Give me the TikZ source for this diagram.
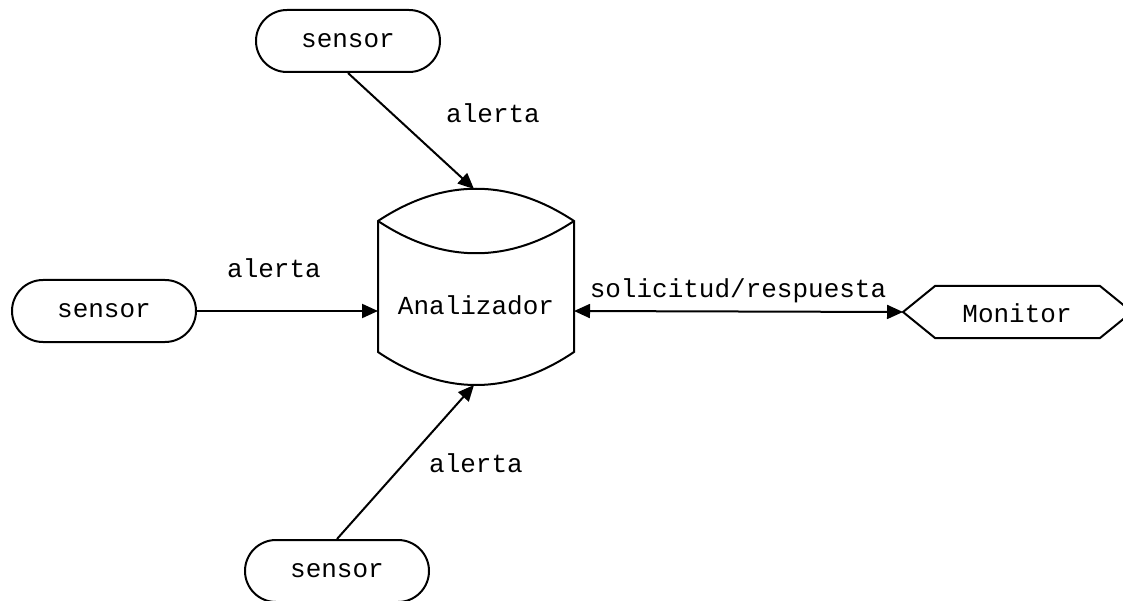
\documentclass[tikz,border=0pt]{standalone}
\usepackage{fontspec}
\setmonofont{Liberation Mono}
\usetikzlibrary{arrows.meta}
\begin{document}
\begin{tikzpicture}[x=1pt,y=-1pt,
  every node/.style={font=\ttfamily\fontsize{26}{30}\selectfont, inner sep=0pt},
  sensorbox/.style={draw, line width=2pt, rounded corners=31pt, minimum width=184pt, minimum height=62pt},
  outline/.style={line width=2pt, line join=miter},
  flow/.style={line width=2pt, -{Triangle[length=16pt,width=14pt]}},
  twoway/.style={line width=2pt, {Triangle[length=16pt,width=14pt]}-{Triangle[length=16pt,width=14pt]}}]
\useasboundingbox (0,0) rectangle (1123,601);

% sensors
\node[sensorbox] (s1) at (348,41) {sensor};
\node[sensorbox] (s2) at (104,311) {sensor};
\node[sensorbox] (s3) at (337,571) {sensor};

% analyser drum
\draw[outline] (378,221) .. controls (443,178) and (509,178) .. (574,221)
  -- (574,352) .. controls (509,396) and (443,396) .. (378,352) -- cycle;
\draw[outline] (378,221) .. controls (443,264) and (509,264) .. (574,221);
\node (ana) at (476,305) {Analizador};
\coordinate (anaT) at (474,189);
\coordinate (anaB) at (474,385);
\coordinate (anaL) at (378,311);
\coordinate (anaR) at (574,311);

% monitor display
\draw[outline] (1100,286) -- (935,286) -- (903,312) -- (935,338) -- (1100,338) -- (1132,312) -- cycle;
\node (mon) at (1017,313) {Monitor};
\coordinate (monL) at (903,312);

% connectors
\draw[flow] (s1.south) -- (anaT);
\draw[flow] (s2.east) -- (anaL);
\draw[flow] (s3.north) -- (anaB);
\draw[twoway] (anaR) -- (monL);

% labels
\node at (493,113) {alerta};
\node at (274,268) {alerta};
\node at (476,463) {alerta};
\node at (738,291) {solicitud/respuesta};
\end{tikzpicture}
\end{document}
